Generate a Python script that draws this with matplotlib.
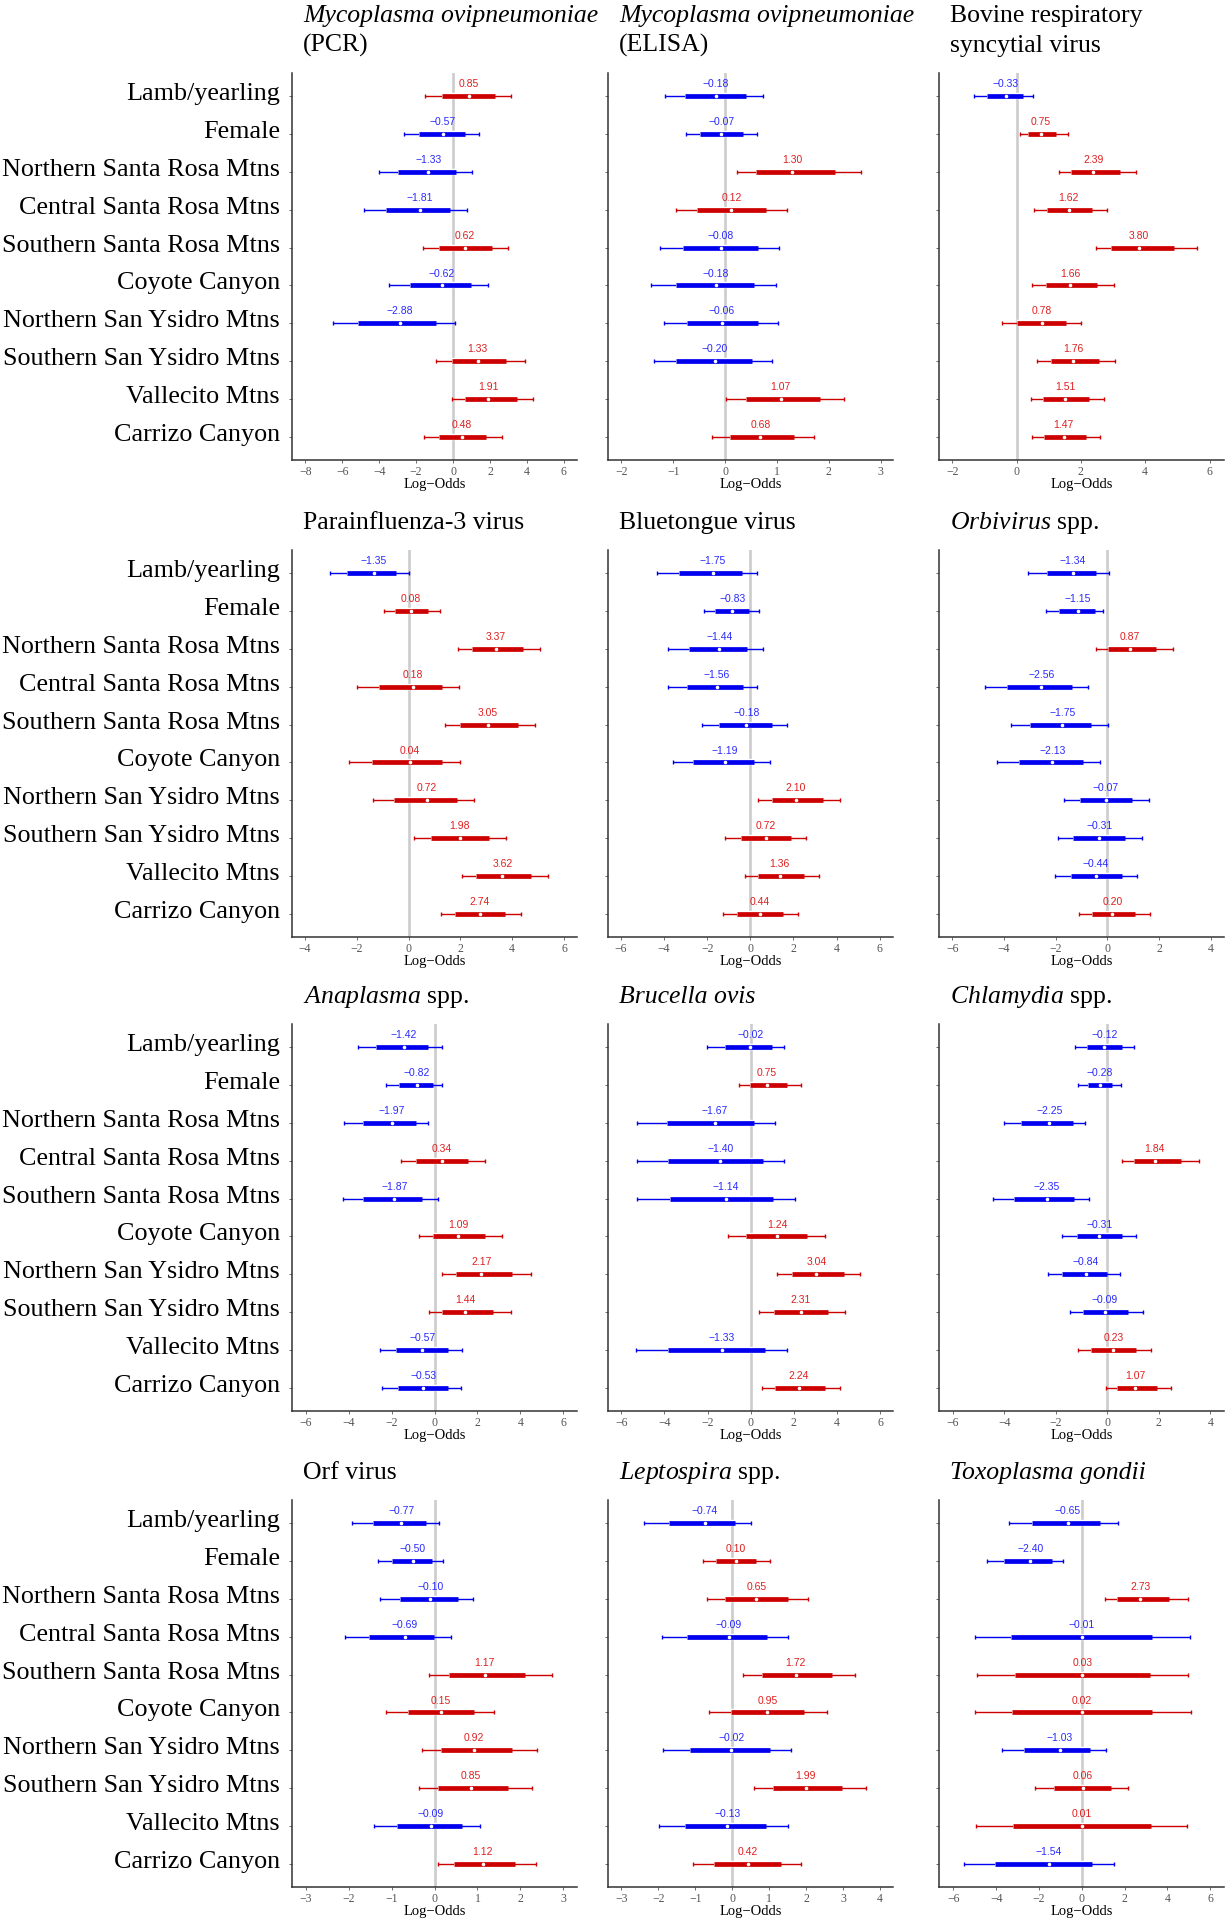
import matplotlib
matplotlib.use("Agg")
import matplotlib.pyplot as plt
import matplotlib.patheffects as pe
import matplotlib.transforms as mtransforms
import numpy as np

plt.rcParams['font.family'] = ['Liberation Serif', 'DejaVu Serif']
plt.rcParams['mathtext.fontset'] = 'custom'
plt.rcParams['mathtext.it'] = 'Liberation Serif:italic'
plt.rcParams['mathtext.rm'] = 'Liberation Serif'

categories = ["Lamb/yearling", "Female", "Northern Santa Rosa Mtns", "Central Santa Rosa Mtns",
              "Southern Santa Rosa Mtns", "Coyote Canyon", "Northern San Ysidro Mtns",
              "Southern San Ysidro Mtns", "Vallecito Mtns", "Carrizo Canyon"]

# ---- Mycoplasma ovipneumoniae (PCR)
mo_pcr_med = [0.85, -0.57, -1.33, -1.81, 0.62, -0.62, -2.88, 1.33, 1.91, 0.48]
mo_pcr_lo50 = [-0.60, -1.82, -2.98, -3.65, -0.78, -2.33, -5.16, -0.07, 0.65, -0.76]
mo_pcr_hi50 = [2.29, 0.63, 0.16, -0.14, 2.09, 0.97, -0.94, 2.89, 3.45, 1.79]
mo_pcr_lo95 = [-1.50, -2.65, -4.03, -4.82, -1.62, -3.45, -6.48, -0.90, -0.05, -1.55]
mo_pcr_hi95 = [3.16, 1.41, 1.03, 0.78, 3.00, 1.91, 0.13, 3.90, 4.35, 2.64]

# ---- Mycoplasma ovipneumoniae (ELISA)
mo_elisa_med = [-0.18, -0.07, 1.30, 0.12, -0.08, -0.18, -0.06, -0.20, 1.07, 0.68]
mo_elisa_lo50 = [-0.78, -0.49, 0.60, -0.54, -0.82, -0.94, -0.74, -0.94, 0.40, 0.09]
mo_elisa_hi50 = [0.41, 0.35, 2.12, 0.79, 0.63, 0.55, 0.63, 0.51, 1.84, 1.32]
mo_elisa_lo95 = [-1.16, -0.75, 0.23, -0.95, -1.26, -1.43, -1.17, -1.37, 0.02, -0.25]
mo_elisa_hi95 = [0.74, 0.61, 2.63, 1.20, 1.04, 0.98, 1.02, 0.91, 2.30, 1.72]

# ---- Bovine respiratory syncytial virus
brsv_med = [-0.33, 0.75, 2.39, 1.62, 3.80, 1.66, 0.78, 1.76, 1.51, 1.47]
brsv_lo50 = [-0.92, 0.35, 1.69, 0.95, 2.94, 0.92, 0.03, 1.06, 0.82, 0.86]
brsv_hi50 = [0.20, 1.24, 3.21, 2.36, 4.90, 2.49, 1.54, 2.56, 2.24, 2.17]
brsv_lo95 = [-1.31, 0.10, 1.31, 0.55, 2.47, 0.48, -0.45, 0.64, 0.44, 0.49]
brsv_hi95 = [0.52, 1.60, 3.72, 2.82, 5.62, 3.02, 2.00, 3.06, 2.72, 2.60]

# ---- Parainfluenza-3 virus
pi3_med = [-1.35, 0.08, 3.37, 0.18, 3.05, 0.04, 0.72, 1.98, 3.62, 2.74]
pi3_lo50 = [-2.37, -0.53, 2.43, -1.16, 1.99, -1.40, -0.57, 0.86, 2.60, 1.81]
pi3_hi50 = [-0.48, 0.75, 4.43, 1.30, 4.21, 1.30, 1.87, 3.09, 4.74, 3.73]
pi3_lo95 = [-3.02, -0.93, 1.90, -1.98, 1.40, -2.30, -1.38, 0.22, 2.07, 1.25]
pi3_hi95 = [0.01, 1.20, 5.08, 1.94, 4.86, 1.99, 2.52, 3.76, 5.39, 4.35]

# ---- Bluetongue virus
btv_med = [-1.75, -0.83, -1.44, -1.56, -0.18, -1.19, 2.10, 0.72, 1.36, 0.44]
btv_lo50 = [-3.31, -1.65, -2.84, -2.95, -1.47, -2.66, 0.99, -0.43, 0.34, -0.63]
btv_hi50 = [-0.39, -0.05, -0.14, -0.36, 1.02, 0.17, 3.37, 1.90, 2.49, 1.53]
btv_lo95 = [-4.34, -2.15, -3.80, -3.82, -2.24, -3.60, 0.36, -1.17, -0.23, -1.27]
btv_hi95 = [0.31, 0.42, 0.57, 0.32, 1.72, 0.90, 4.17, 2.58, 3.20, 2.21]

# ---- Orbivirus spp.
orb_med = [-1.34, -1.15, 0.87, -2.56, -1.75, -2.13, -0.07, -0.31, -0.44, 0.20]
orb_lo50 = [-2.33, -1.87, 0.04, -3.89, -2.98, -3.42, -1.06, -1.33, -1.42, -0.61]
orb_hi50 = [-0.44, -0.49, 1.89, -1.36, -0.63, -0.93, 0.96, 0.70, 0.57, 1.09]
orb_lo95 = [-3.06, -2.37, -0.43, -4.75, -3.74, -4.29, -1.67, -1.92, -2.02, -1.10]
orb_hi95 = [0.05, -0.16, 2.53, -0.73, 0.01, -0.27, 1.62, 1.35, 1.15, 1.65]

# ---- Anaplasma spp.
ana_med = [-1.42, -0.82, -1.97, 0.34, -1.87, 1.09, 2.17, 1.44, -0.57, -0.53]
ana_lo50 = [-2.71, -1.63, -3.33, -0.84, -3.34, -0.08, 1.00, 0.36, -1.77, -1.71]
ana_hi50 = [-0.30, -0.09, -0.87, 1.57, -0.59, 2.35, 3.59, 2.71, 0.61, 0.61]
ana_lo95 = [-3.56, -2.24, -4.21, -1.57, -4.28, -0.73, 0.36, -0.26, -2.55, -2.46]
ana_hi95 = [0.37, 0.36, -0.28, 2.33, 0.17, 3.14, 4.51, 3.58, 1.28, 1.23]

# ---- Brucella ovis
bru_med = [-0.02, 0.75, -1.67, -1.40, -1.14, 1.24, 3.04, 2.31, -1.33, 2.24]
bru_lo50 = [-1.21, -0.05, -3.89, -3.81, -3.72, -0.22, 1.89, 1.10, -3.82, 1.13]
bru_hi50 = [0.98, 1.70, 0.17, 0.56, 1.01, 2.60, 4.30, 3.59, 0.68, 3.45]
bru_lo95 = [-2.01, -0.53, -5.25, -5.29, -5.29, -1.05, 1.22, 0.39, -5.33, 0.53]
bru_hi95 = [1.56, 2.31, 1.11, 1.55, 2.03, 3.42, 5.06, 4.35, 1.69, 4.15]

# ---- Chlamydia spp.
chl_med = [-0.12, -0.28, -2.25, 1.84, -2.35, -0.31, -0.84, -0.09, 0.23, 1.07]
chl_lo50 = [-0.79, -0.76, -3.34, 1.02, -3.64, -1.19, -1.76, -0.93, -0.63, 0.38]
chl_hi50 = [0.58, 0.19, -1.35, 2.85, -1.30, 0.57, -0.03, 0.80, 1.11, 1.93]
chl_lo95 = [-1.27, -1.13, -4.03, 0.56, -4.44, -1.77, -2.29, -1.46, -1.15, -0.04]
chl_hi95 = [1.04, 0.51, -0.85, 3.55, -0.70, 1.13, 0.48, 1.39, 1.68, 2.49]

# ---- Orf virus
orf_med = [-0.77, -0.50, -0.10, -0.69, 1.17, 0.15, 0.92, 0.85, -0.09, 1.12]
orf_lo50 = [-1.44, -0.98, -0.81, -1.52, 0.34, -0.61, 0.16, 0.09, -0.88, 0.45]
orf_hi50 = [-0.20, -0.06, 0.54, -0.01, 2.11, 0.92, 1.80, 1.71, 0.64, 1.88]
orf_lo95 = [-1.92, -1.31, -1.27, -2.09, -0.13, -1.12, -0.29, -0.35, -1.42, 0.08]
orf_hi95 = [0.10, 0.19, 0.90, 0.39, 2.73, 1.38, 2.39, 2.26, 1.05, 2.37]

# ---- Leptospira spp.
lep_med = [-0.74, 0.10, 0.65, -0.09, 1.72, 0.95, -0.02, 1.99, -0.13, 0.42]
lep_lo50 = [-1.72, -0.45, -0.20, -1.22, 0.80, -0.04, -1.14, 1.10, -1.27, -0.49]
lep_hi50 = [0.08, 0.65, 1.51, 0.95, 2.69, 1.95, 1.02, 2.98, 0.91, 1.33]
lep_lo95 = [-2.39, -0.80, -0.69, -1.91, 0.29, -0.64, -1.86, 0.59, -1.98, -1.05]
lep_hi95 = [0.51, 1.01, 2.05, 1.51, 3.33, 2.56, 1.60, 3.62, 1.50, 1.86]

# ---- Toxoplasma gondii
tox_med = [-0.65, -2.40, 2.73, -0.01, 0.03, 0.02, -1.03, 0.06, 0.01, -1.54]
tox_lo50 = [-2.34, -3.63, 1.65, -3.29, -3.12, -3.26, -2.68, -1.31, -3.21, -4.07]
tox_hi50 = [0.84, -1.40, 4.07, 3.27, 3.21, 3.30, 0.39, 1.39, 3.24, 0.50]
tox_lo95 = [-3.41, -4.42, 1.09, -5.00, -4.88, -5.00, -3.71, -2.18, -4.94, -5.50]
tox_hi95 = [1.70, -0.89, 4.95, 5.05, 4.97, 5.09, 1.15, 2.17, 4.92, 1.50]

# titles: list of lines; each line is (text, italic)
titles = [
    [(r"Mycoplasma ovipneumoniae", True), ("(PCR)", False)],
    [(r"Mycoplasma ovipneumoniae", True), ("(ELISA)", False)],
    [("Bovine respiratory", False), ("syncytial virus", False)],
    [("Parainfluenza-3 virus", False)],
    [("Bluetongue virus", False)],
    [(r"$\mathit{Orbivirus}$ spp.", False)],
    [(r"$\mathit{Anaplasma}$ spp.", False)],
    [("Brucella ovis", True)],
    [(r"$\mathit{Chlamydia}$ spp.", False)],
    [("Orf virus", False)],
    [(r"$\mathit{Leptospira}$ spp.", False)],
    [("Toxoplasma gondii", True)],
]

panels = [
    (mo_pcr_med, mo_pcr_lo50, mo_pcr_hi50, mo_pcr_lo95, mo_pcr_hi95),
    (mo_elisa_med, mo_elisa_lo50, mo_elisa_hi50, mo_elisa_lo95, mo_elisa_hi95),
    (brsv_med, brsv_lo50, brsv_hi50, brsv_lo95, brsv_hi95),
    (pi3_med, pi3_lo50, pi3_hi50, pi3_lo95, pi3_hi95),
    (btv_med, btv_lo50, btv_hi50, btv_lo95, btv_hi95),
    (orb_med, orb_lo50, orb_hi50, orb_lo95, orb_hi95),
    (ana_med, ana_lo50, ana_hi50, ana_lo95, ana_hi95),
    (bru_med, bru_lo50, bru_hi50, bru_lo95, bru_hi95),
    (chl_med, chl_lo50, chl_hi50, chl_lo95, chl_hi95),
    (orf_med, orf_lo50, orf_hi50, orf_lo95, orf_hi95),
    (lep_med, lep_lo50, lep_hi50, lep_lo95, lep_hi95),
    (tox_med, tox_lo50, tox_hi50, tox_lo95, tox_hi95),
]

xlims = [(-8.72, 6.71), (-2.26, 3.24), (-2.41, 6.45),
         (-4.50, 6.50), (-6.60, 6.62), (-6.52, 4.52),
         (-6.63, 6.63), (-6.61, 6.59), (-6.54, 4.53),
         (-3.32, 3.32), (-3.36, 4.35), (-6.67, 6.65)]
xticks = [np.arange(-8, 7, 2), np.arange(-2, 4, 1), np.arange(-2, 7, 2),
          np.arange(-4, 7, 2), np.arange(-6, 7, 2), np.arange(-6, 5, 2),
          np.arange(-6, 7, 2), np.arange(-6, 7, 2), np.arange(-6, 5, 2),
          np.arange(-3, 4, 1), np.arange(-3, 5, 1), np.arange(-6, 7, 2)]

W, H = 1228, 1920
DPI = 100
fig = plt.figure(figsize=(W / DPI, H / DPI), dpi=DPI)

col_left = [292, 608, 939]
col_w = 285
row_top = [73, 550, 1024, 1500]
row_h = 387

BLUE = '#0000EE'
RED = '#CC0000'
BLUE_T = '#2A2AFF'
RED_T = '#E01F1F'

n = len(categories)
ypos = np.arange(n, 0, -1)

for k, (med, lo50, hi50, lo95, hi95) in enumerate(panels):
    r, c = divmod(k, 3)
    left = col_left[c]
    top = row_top[r]
    ax = fig.add_axes([left / W, 1 - (top + row_h) / H, col_w / W, row_h / H])
    ax.axvline(0, color='#CCCCCC', lw=1.9, zorder=1)
    for i in range(n):
        y = ypos[i]
        m = med[i]
        col = BLUE if m < 0 else RED
        tcol = BLUE_T if m < 0 else RED_T
        ax.plot([lo95[i], hi95[i]], [y, y], color=col, lw=1.0, solid_capstyle='butt', zorder=2)
        ax.plot([lo95[i], hi95[i]], [y, y], ls='none', marker='|', ms=3, mew=1.0, color=col, zorder=2)
        ax.plot([lo50[i], hi50[i]], [y, y], color=col, lw=3.4, solid_capstyle='butt', zorder=3,
                path_effects=[pe.Stroke(linewidth=4.6, foreground='white'), pe.Normal()])
        ax.plot([m], [y], 'o', ms=2.6, color='white', mec='none', zorder=4)
        ax.annotate(f"{m:.2f}".replace('-', '\u2212'), (m, y), xytext=(0, 5), textcoords='offset points',
                    ha='center', va='bottom', fontsize=7.5, color=tcol, family='Liberation Sans', zorder=5)
    ax.set_xlim(*xlims[k])
    ax.set_ylim(0.4, n + 0.6)
    ax.set_xticks(xticks[k])
    ax.set_xticklabels([str(int(t)).replace('-', '\u2212') for t in xticks[k]])
    ax.set_yticks(ypos)
    ax.set_yticklabels([])
    if c == 0:
        ltrans = mtransforms.blended_transform_factory(ax.transAxes, ax.transData) + \
            mtransforms.ScaledTranslation(-12 / DPI, 2 / DPI, fig.dpi_scale_trans)
        for yy, lab in zip(ypos, categories):
            ax.text(0, yy, lab, transform=ltrans, ha='right', va='center', fontsize=18.8,
                    color='black', clip_on=False)
    ax.tick_params(axis='x', labelsize=8.5, labelcolor='#555555', color='#555555', length=2.5, width=0.6, pad=1.5)
    ax.tick_params(axis='y', color='#555555', length=2.5, width=0.6, pad=5)
    ax.set_xlabel('Log\u2212Odds', fontsize=10.5, labelpad=0)
    for s in ['top', 'right']:
        ax.spines[s].set_visible(False)
    for s in ['left', 'bottom']:
        ax.spines[s].set_color('#333333')
        ax.spines[s].set_linewidth(1.1)

    # title
    lines = titles[k]
    nl = len(lines)
    for j, (txt, ital) in enumerate(lines):
        base_y = top - 21 - (nl - 1 - j) * 30
        fig.text((left + 11) / W, 1 - base_y / H, txt, fontsize=18.5, va='baseline', ha='left',
                 fontstyle='italic' if ital else 'normal')

fig.savefig('out.png', dpi=DPI)
